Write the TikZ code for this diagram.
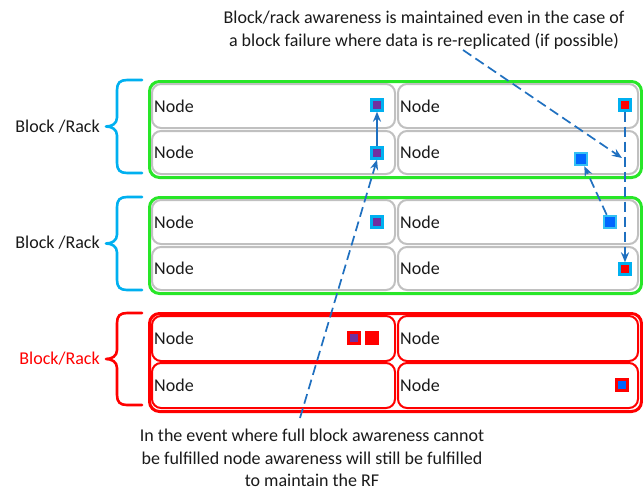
\documentclass[tikz,border=0pt]{standalone}
\usepackage{fontspec}
\setmainfont{Carlito}
\usetikzlibrary{arrows.meta}
\definecolor{grn}{RGB}{40,230,40}
\definecolor{rd}{RGB}{255,0,0}
\definecolor{cy}{RGB}{0,176,240}
\definecolor{pur}{RGB}{112,48,160}
\definecolor{blu}{RGB}{0,102,255}
\definecolor{arr}{RGB}{31,112,192}
\definecolor{gry}{RGB}{192,192,192}
\definecolor{txt}{RGB}{26,26,26}
\newcommand\drawbrace[3]{%
  \pgfmathsetmacro\bt{#2}\pgfmathsetmacro\bb{#3}\pgfmathsetmacro\bm{(#2+#3)/2}%
  \draw[bracestyle, draw=#1] (142,\bt) -- (127,\bt) .. controls (120,\bt) and (117,\bt+3) .. (117,\bt+10)
    -- (117,\bm-9) .. controls (117,\bm-3) and (112,\bm) .. (106,\bm)
    .. controls (112,\bm) and (117,\bm+3) .. (117,\bm+9)
    -- (117,\bb-10) .. controls (117,\bb-3) and (120,\bb) .. (127,\bb) -- (142,\bb);}
\begin{document}
\begin{tikzpicture}[x=1pt,y=-1pt,
  every node/.style={font=\fontsize{18}{22.5}\selectfont, text=txt},
  outerbox/.style={draw, line width=3pt, rounded corners=10pt, anchor=north west, inner sep=0pt, minimum width=492pt},
  nodebox/.style={draw=gry, line width=2pt, rounded corners=9pt, anchor=north west, inner sep=0pt, fill=white},
  leftbox/.style={nodebox, minimum width=243pt},
  rightbox/.style={nodebox, minimum width=240pt},
  nodetxt/.style={anchor=west, inner sep=0pt},
  sq/.style={draw, line width=2.4pt, inner sep=0pt, minimum size=11pt},
  sqpc/.style={sq, draw=cy, fill=pur},
  sqrc/.style={sq, draw=cy, fill=rd},
  sqbc/.style={sq, draw=cy!80!white, fill=blu, minimum size=12pt},
  sqpr/.style={sq, draw=rd, fill=pur},
  sqrr/.style={sq, draw=rd, fill=rd},
  sqbr/.style={sq, draw=rd, fill=blu},
  bracestyle/.style={line width=2.6pt, line cap=round, line join=round},
  conn/.style={draw=arr, line width=1.7pt, -{Stealth[length=10pt,width=8pt]}},
  dconn/.style={conn, dash pattern=on 10pt off 5pt},
  grouplabel/.style={anchor=east, inner sep=0pt}
]
\useasboundingbox[fill=white] (0,0) rectangle (643,490);

% group 1
\node[outerbox, draw=grn, minimum height=96pt] (g1) at (148,80) {};
\node[leftbox, minimum height=44pt] (n11) at (151,83) {};
\node[rightbox, minimum height=44pt] (n12) at (397,83) {};
\node[leftbox, minimum height=43pt] (n21) at (151,130) {};
\node[rightbox, minimum height=43pt] (n22) at (397,130) {};
% group 2
\node[outerbox, draw=grn, minimum height=96pt] (g2) at (148,196) {};
\node[leftbox, minimum height=44pt] (n31) at (151,199) {};
\node[rightbox, minimum height=44pt] (n32) at (397,199) {};
\node[leftbox, minimum height=43pt] (n41) at (151,246) {};
\node[rightbox, minimum height=43pt] (n42) at (397,246) {};
% group 3
\node[outerbox, draw=rd, minimum height=98pt] (g3) at (148,312) {};
\node[leftbox, draw=rd, minimum height=45pt] (n51) at (151,315) {};
\node[rightbox, draw=rd, minimum height=45pt] (n52) at (397,315) {};
\node[leftbox, draw=rd, minimum height=45pt] (n61) at (151,362) {};
\node[rightbox, draw=rd, minimum height=45pt] (n62) at (397,362) {};

\foreach \n in {n11,n12,n21,n22,n31,n32,n41,n42,n51,n52,n61,n62}
  \node[nodetxt] at ([xshift=3pt]\n.west) {Node};

% braces and labels
\drawbrace{cy}{80}{173}
\drawbrace{cy}{197}{290}
\drawbrace{rd}{313}{405}
\node[grouplabel] (l1) at (100,127) {Block /Rack};
\node[grouplabel] (l2) at (100,243) {Block /Rack};
\node[grouplabel, text=rd] (l3) at (100,359) {Block/Rack};

% squares
\node[sqpc] (s11) at (377,105) {};
\node[sqpc] (s21) at (377,153) {};
\node[sqrc] (s12) at (625,105) {};
\node[sqbc] (s22) at (581,159) {};
\node[sqpc] (s31) at (377,222) {};
\node[sqbc] (s32) at (610,222) {};
\node[sqrc] (s42) at (625,269) {};
\node[sqpr] (s51a) at (354,338) {};
\node[sqrr] (s51b) at (372,338) {};
\node[sqbr] (s62) at (622,385) {};

% texts
\node[align=center, inner sep=0pt] (ttop) at (424,30) {Block/rack awareness is maintained even in the case of\\a block failure where data is re-replicated (if possible)};
\node[align=center, inner sep=0pt] (tbot) at (312,458) {In the event where full block awareness cannot\\be fulfilled node awareness will still be fulfilled\\to maintain the RF};

% connectors
\coordinate (c1) at (463,50);
\coordinate (c2) at (622,158);
\coordinate (c3) at (300,418);
\draw[conn] (s21) -- (s11);
\draw[dconn] (c3) -- (s21.south);
\draw[dconn] (s12) -- (s42);
\draw[dconn] (c1) -- (c2);
\draw[dconn] (s32) -- (s22);
\end{tikzpicture}
\end{document}
